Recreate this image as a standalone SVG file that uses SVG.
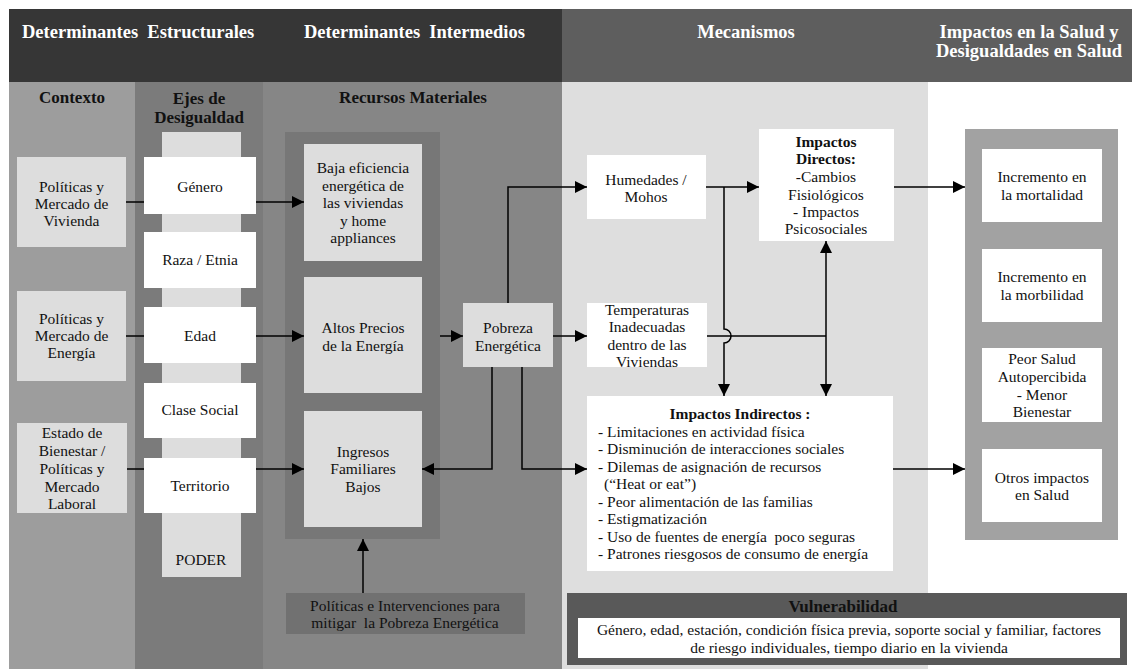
<svg xmlns="http://www.w3.org/2000/svg" width="1132" height="669" viewBox="0 0 1132 669">
<defs>
<style>
text{font-family:"Liberation Serif","Times New Roman",serif;fill:#111;}
.h{font-size:18.5px;font-weight:bold;fill:#fff;white-space:pre;}
.s{font-size:17px;font-weight:bold;text-anchor:middle;}
.t{font-size:15.5px;text-anchor:middle;}
.tb{font-size:15.5px;text-anchor:middle;font-weight:bold;}
.tl{font-size:15.5px;white-space:pre;}
.pre{white-space:pre;}
.lt{fill:#dddddd;}
.wh{fill:#ffffff;}
.ln{fill:none;stroke:#000;stroke-width:1.5;}
.ar{marker-end:url(#ah);}
</style>
<marker id="ah" markerUnits="userSpaceOnUse" markerWidth="12" markerHeight="12" refX="12" refY="6" orient="auto">
<path d="M0,0 L12,6 L0,12 z" fill="#000"/>
</marker>
</defs>

<g id="background">
<rect x="9" y="82" width="126" height="587" fill="#9d9d9d"/>
<rect x="135" y="82" width="128" height="587" fill="#7b7b7b"/>
<rect x="263" y="82" width="299" height="587" fill="#868686"/>
<rect x="562" y="82" width="366" height="587" fill="#dedede"/>
<rect x="9" y="9" width="553" height="73" fill="#363636"/>
<rect x="562" y="9" width="570" height="73" fill="#5e5e5e"/>
<rect x="162" y="132" width="79" height="445" fill="#dddddd"/>
<rect x="285" y="132" width="155" height="407" fill="#777777"/>
<rect x="965" y="129" width="153" height="411" fill="#a2a2a2"/>
</g>

<g id="headers">
<text class="h" x="22" y="38">Determinantes  Estructurales</text>
<text class="h" x="304" y="38">Determinantes  Intermedios</text>
<text class="h" x="746" y="38" text-anchor="middle">Mecanismos</text>
<text class="h" x="1029" y="38" text-anchor="middle">Impactos en la Salud y</text>
<text class="h" x="1029" y="57" text-anchor="middle">Desigualdades en Salud</text>
<text class="s" x="72" y="103">Contexto</text>
<text class="s" x="199" y="104">Ejes de</text>
<text class="s" x="199" y="123">Desigualdad</text>
<text class="s" x="413" y="103">Recursos Materiales</text>
</g>

<g id="connectors">
<path class="ln" d="M126,202 H144"/>
<path class="ln ar" d="M256,202 H304"/>
<path class="ln" d="M126,336 H144"/>
<path class="ln ar" d="M256,336 H304"/>
<path class="ln" d="M127,469 H144"/>
<path class="ln ar" d="M256,469 H304"/>
<path class="ln ar" d="M440,336 H463"/>
<path class="ln ar" d="M508,303 V187 H587"/>
<path class="ln ar" d="M553,336 H587"/>
<path class="ln ar" d="M492,367 V469 H422"/>
<path class="ln ar" d="M522,367 V469 H587"/>
<path class="ln ar" d="M706,187 H759"/>
<path class="ln ar" d="M724,187 V329 A7,7 0 0 1 724,343 V396"/>
<path class="ln" d="M707,336 H826"/>
<path class="ln ar" d="M826,336 V241"/>
<path class="ln ar" d="M826,336 V396"/>
<path class="ln ar" d="M894,187 H965"/>
<path class="ln ar" d="M893,469 H965"/>
<path class="ln ar" d="M363,593 V539"/>
</g>

<g id="ctx-vivienda">
<rect class="lt" x="17" y="157" width="109" height="90"/>
<text class="t" x="71.5" y="192">Políticas y</text>
<text class="t" x="71.5" y="209">Mercado de</text>
<text class="t" x="71.5" y="226">Vivienda</text>
</g>
<g id="ctx-energia">
<rect class="lt" x="17" y="291" width="109" height="90"/>
<text class="t" x="71.5" y="324">Políticas y</text>
<text class="t" x="71.5" y="341">Mercado de</text>
<text class="t" x="71.5" y="358">Energía</text>
</g>
<g id="ctx-estado">
<rect class="lt" x="17" y="423" width="110" height="90"/>
<text class="t" x="72" y="438">Estado de</text>
<text class="t" x="72" y="456">Bienestar /</text>
<text class="t" x="72" y="474">Políticas y</text>
<text class="t" x="72" y="492">Mercado</text>
<text class="t" x="72" y="509">Laboral</text>
</g>

<g id="eje-genero">
<rect class="wh" x="144" y="157" width="112" height="57"/>
<text class="t" x="200" y="192">Género</text>
</g>
<g id="eje-raza">
<rect class="wh" x="144" y="232" width="112" height="56"/>
<text class="t" x="200" y="265">Raza / Etnia</text>
</g>
<g id="eje-edad">
<rect class="wh" x="144" y="307" width="112" height="56"/>
<text class="t" x="200" y="341">Edad</text>
</g>
<g id="eje-clase">
<rect class="wh" x="144" y="383" width="112" height="55"/>
<text class="t" x="200" y="415">Clase Social</text>
</g>
<g id="eje-territorio">
<rect class="wh" x="144" y="458" width="112" height="55"/>
<text class="t" x="200" y="491">Territorio</text>
</g>
<g id="eje-poder">
<text class="t" x="201" y="565">PODER</text>
</g>

<g id="rec-baja">
<rect class="lt" x="304" y="144" width="118" height="117"/>
<text class="t" x="363" y="173">Baja eficiencia</text>
<text class="t" x="363" y="191">energética de</text>
<text class="t" x="363" y="208">las viviendas</text>
<text class="t" x="363" y="226">y home</text>
<text class="t" x="363" y="243">appliances</text>
</g>
<g id="rec-altos">
<rect class="lt" x="304" y="277" width="118" height="116"/>
<text class="t" x="363" y="333">Altos Precios</text>
<text class="t" x="363" y="351">de la Energía</text>
</g>
<g id="rec-ingresos">
<rect class="lt" x="304" y="411" width="118" height="116"/>
<text class="t" x="363" y="457">Ingresos</text>
<text class="t" x="363" y="474">Familiares</text>
<text class="t" x="363" y="492">Bajos</text>
</g>

<g id="pobreza">
<rect class="lt" x="463" y="303" width="90" height="64"/>
<text class="t" x="508" y="333">Pobreza</text>
<text class="t" x="508" y="351">Energética</text>
</g>

<g id="politicas">
<rect x="286" y="593" width="239" height="41" fill="#717171"/>
<text class="t pre" x="405" y="611">Políticas e Intervenciones para</text>
<text class="t pre" x="405" y="628">mitigar  la Pobreza Energética</text>
</g>

<g id="humedades">
<rect class="wh" x="587" y="155" width="119" height="64"/>
<text class="t" x="646" y="185">Humedades /</text>
<text class="t" x="646" y="202">Mohos</text>
</g>
<g id="temperaturas">
<rect class="wh" x="587" y="303" width="120" height="64"/>
<text class="t" x="647" y="315">Temperaturas</text>
<text class="t" x="647" y="332">Inadecuadas</text>
<text class="t" x="647" y="350">dentro de las</text>
<text class="t" x="647" y="367">Viviendas</text>
</g>
<g id="directos">
<rect class="wh" x="759" y="129" width="135" height="112"/>
<text class="tb" x="826" y="147">Impactos</text>
<text class="tb" x="826" y="164">Directos:</text>
<text class="t" x="826" y="182">-Cambios</text>
<text class="t" x="826" y="200">Fisiológicos</text>
<text class="t" x="826" y="217">- Impactos</text>
<text class="t" x="826" y="234">Psicosociales</text>
</g>
<g id="indirectos">
<rect class="wh" x="587" y="396" width="306" height="175"/>
<text class="tb" x="740" y="419">Impactos Indirectos :</text>
<text class="tl" x="598" y="437">- Limitaciones en actividad física</text>
<text class="tl" x="598" y="454">- Disminución de interacciones sociales</text>
<text class="tl" x="598" y="472">- Dilemas de asignación de recursos</text>
<text class="tl" x="604" y="489">(“Heat or eat”)</text>
<text class="tl" x="598" y="507">- Peor alimentación de las familias</text>
<text class="tl" x="598" y="524">- Estigmatización</text>
<text class="tl" x="598" y="542">- Uso de fuentes de energía  poco seguras</text>
<text class="tl" x="598" y="559">- Patrones riesgosos de consumo de energía</text>
</g>

<g id="mortalidad">
<rect class="wh" x="982" y="149" width="120" height="73"/>
<text class="t" x="1042" y="182">Incremento en</text>
<text class="t" x="1042" y="200">la mortalidad</text>
</g>
<g id="morbilidad">
<rect class="wh" x="982" y="249" width="120" height="73"/>
<text class="t" x="1042" y="282">Incremento en</text>
<text class="t" x="1042" y="300">la morbilidad</text>
</g>
<g id="autopercibida">
<rect class="wh" x="982" y="348" width="120" height="74"/>
<text class="t" x="1042" y="364">Peor Salud</text>
<text class="t" x="1042" y="382">Autopercibida</text>
<text class="t" x="1042" y="400">- Menor</text>
<text class="t" x="1042" y="417">Bienestar</text>
</g>
<g id="otros">
<rect class="wh" x="982" y="449" width="120" height="73"/>
<text class="t" x="1042" y="483">Otros impactos</text>
<text class="t" x="1042" y="500">en Salud</text>
</g>

<g id="vulnerabilidad">
<rect x="567" y="593" width="560" height="72" fill="#595959"/>
<text class="s" x="843" y="612">Vulnerabilidad</text>
<rect class="wh" x="578" y="618" width="542" height="40"/>
<text class="t" x="849" y="635">Género, edad, estación, condición física previa, soporte social y familiar, factores</text>
<text class="t" x="849" y="653">de riesgo individuales, tiempo diario en la vivienda</text>
</g>
</svg>
